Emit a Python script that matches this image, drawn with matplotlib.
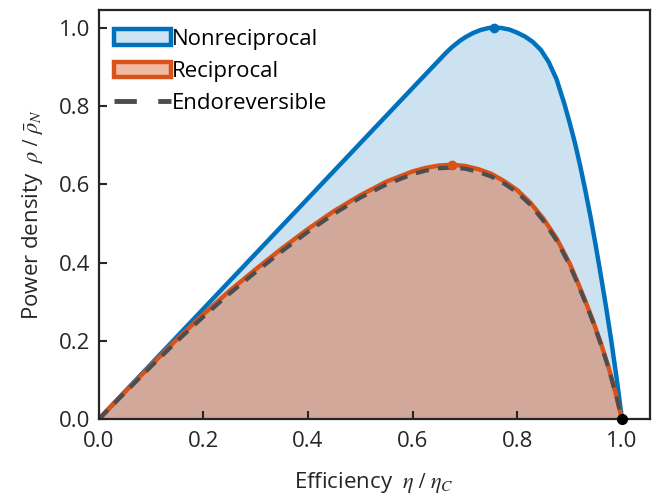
import matplotlib
matplotlib.use('Agg')
import matplotlib.pyplot as plt
from matplotlib.patches import Patch
from matplotlib.lines import Line2D

plt.rcParams['font.family'] = ['Open Sans', 'DejaVu Sans']
plt.rcParams['mathtext.fontset'] = 'stix'

# values
eta_nonrec = [0, 0.1, 0.2, 0.3, 0.4, 0.5, 0.6, 0.664, 0.675, 0.69, 0.7, 0.715, 0.73, 0.745,
              0.755, 0.77, 0.785, 0.8, 0.815, 0.83, 0.845, 0.86, 0.875, 0.89, 0.9, 0.91,
              0.92, 0.93, 0.94, 0.95, 0.96, 0.97, 0.98, 0.99, 1.0]
p_nonrec = [0, 0.141, 0.282, 0.423, 0.564, 0.705, 0.846, 0.936, 0.950, 0.966, 0.975, 0.986,
            0.994, 0.999, 1.0, 0.999, 0.995, 0.987, 0.977, 0.963, 0.943, 0.912, 0.868, 0.805,
            0.757, 0.706, 0.648, 0.584, 0.516, 0.442, 0.364, 0.283, 0.196, 0.102, 0]

eta_rec = [0, 0.05, 0.1, 0.15, 0.2, 0.25, 0.3, 0.35, 0.4, 0.45, 0.5, 0.55, 0.6, 0.625, 0.65,
           0.675, 0.7, 0.725, 0.75, 0.775, 0.8, 0.825, 0.85, 0.875, 0.9, 0.915, 0.93, 0.945,
           0.96, 0.975, 0.99, 1.0]
p_rec = [0, 0.07, 0.138, 0.205, 0.268, 0.328, 0.383, 0.436, 0.486, 0.532, 0.572, 0.607,
         0.633, 0.642, 0.648, 0.65, 0.647, 0.639, 0.627, 0.608, 0.585, 0.553, 0.512, 0.462,
         0.398, 0.351, 0.302, 0.25, 0.193, 0.13, 0.056, 0]
p_endo = [0, 0.068, 0.135, 0.2, 0.262, 0.321, 0.376, 0.429, 0.479, 0.525, 0.566, 0.6,
          0.626, 0.635, 0.641, 0.643, 0.64, 0.632, 0.62, 0.602, 0.579, 0.548, 0.507, 0.457,
          0.394, 0.347, 0.299, 0.247, 0.19, 0.128, 0.055, 0]

peak_nonrec = (0.755, 1.0)
peak_rec = (0.675, 0.65)

labels = ['Nonreciprocal', 'Reciprocal', 'Endoreversible']

blue = '#0072BD'
orange = '#D95319'
grey = '#4D4D4D'
axc = '#262626'

fig = plt.figure(figsize=(6.59, 5.04), dpi=100)
ax = fig.add_axes([0.1495, 0.1677, 0.8365, 0.8125])

ax.fill_between(eta_nonrec, 0, p_nonrec, color=blue, alpha=0.2, linewidth=0)
ax.fill_between(eta_rec, 0, p_rec, color=orange, alpha=0.4, linewidth=0)
ax.plot(eta_nonrec, p_nonrec, color=blue, lw=3.2, solid_capstyle='round', solid_joinstyle='round')
ax.plot(eta_rec, p_rec, color=orange, lw=3.2, solid_capstyle='round', solid_joinstyle='round')
ax.plot(eta_rec, p_endo, color=grey, lw=3.0, dashes=(3.2, 2.2))
ax.plot(*peak_nonrec, 'o', color=blue, ms=6)
ax.plot(*peak_rec, 'o', color=orange, ms=6)
ax.plot(1.0, 0.0, 'o', color='black', ms=7, clip_on=False, zorder=5)

ax.set_xlim(0, 1.053)
ax.set_ylim(0, 1.045)
ax.set_xticks([0, 0.2, 0.4, 0.6, 0.8, 1.0])
ax.set_yticks([0, 0.2, 0.4, 0.6, 0.8, 1.0])
ax.xaxis.set_major_formatter(matplotlib.ticker.FormatStrFormatter('%.1f'))
ax.yaxis.set_major_formatter(matplotlib.ticker.FormatStrFormatter('%.1f'))
ax.tick_params(direction='in', length=6, width=1.5, colors=axc, labelsize=16)
ax.tick_params(axis='x', pad=8)
ax.tick_params(axis='y', pad=6)
for s in ax.spines.values():
    s.set_linewidth(1.6)
    s.set_color(axc)

ax.set_xlabel(r'Efficiency  $\eta\ /\ \eta_C$', fontsize=16, color=axc, labelpad=13)
ax.set_ylabel(r'Power density  $\rho\ /\ \bar{\rho}_N$', fontsize=16, color=axc, labelpad=10)

handles = [
    Patch(facecolor='#cce3f2', edgecolor=blue, linewidth=3.2),
    Patch(facecolor='#f0baa3', edgecolor=orange, linewidth=3.2),
    Line2D([], [], color=grey, lw=3.5, dashes=(4.6, 4.4)),
]
ax.legend(handles, labels, loc='upper left', bbox_to_anchor=(0.012, 0.975), frameon=False,
          fontsize=16, handlelength=2.55, handleheight=0.72,
          handletextpad=0.05, labelspacing=0.5, borderaxespad=0)

fig.savefig('out.png', dpi=100)
